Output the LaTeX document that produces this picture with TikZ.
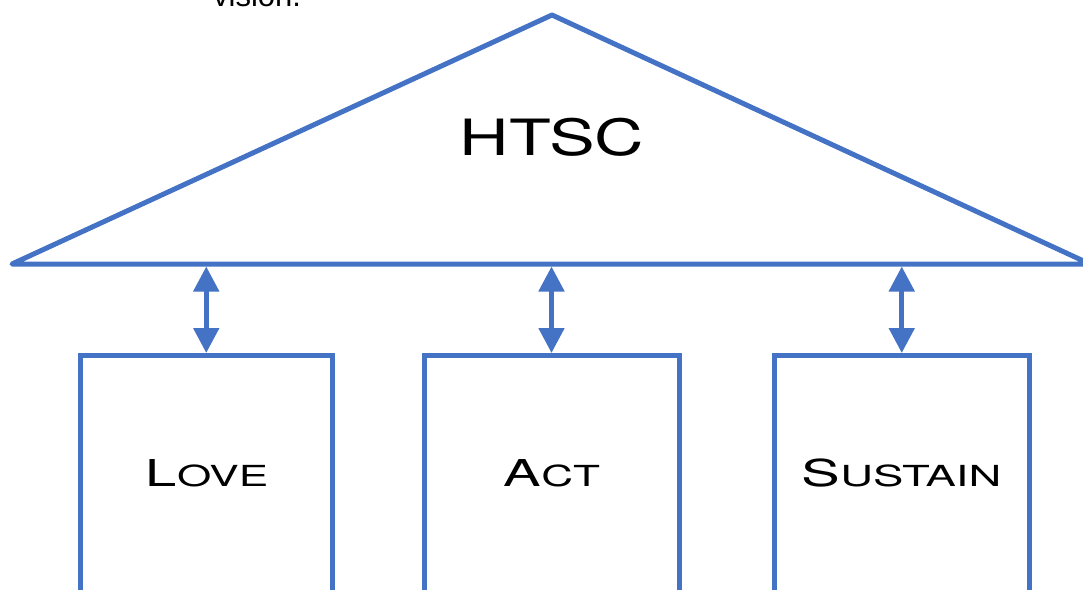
\documentclass[tikz,border=0pt]{standalone}
\usepackage{fontspec}
\setmainfont{TeX Gyre Heros}
\newfontfamily\arialf{Liberation Sans}
\usetikzlibrary{arrows.meta}
\definecolor{roofblue}{HTML}{4472C4}
\newcommand{\capsm}[2]{{\fontsize{37}{37}\selectfont #1\fontsize{29}{29}\selectfont #2}}
\begin{document}
\begin{tikzpicture}[x=1pt,y=-1pt,
  roof/.style={draw=roofblue, line width=5pt, line join=round},
  pillar/.style={draw=roofblue, line width=5pt, minimum height=300pt, anchor=north, inner sep=0pt},
  link/.style={draw=roofblue, line width=5pt, {Triangle[width=25pt,length=25pt]}-{Triangle[width=25pt,length=25pt]}},
  pillartext/.style={anchor=base, inner sep=0pt},
  titletext/.style={anchor=base, inner sep=0pt, font=\fontsize{50}{50}\selectfont}]
\useasboundingbox (0,0) rectangle (1083,589);
\clip (0,0) rectangle (1083,589);
% roof
\coordinate (apex) at (552,15);
\coordinate (baseL) at (12,264);
\coordinate (baseR) at (1090,264);
\draw[roof] (baseL) -- (apex) -- (baseR) -- cycle;
\node[titletext] (htsc) at (552,155) {\scalebox{1.37}[1]{HTSC}};
% pillars
\node[pillar, minimum width=252.5pt] (love) at (206.25,353) {};
\node[pillar, minimum width=255pt] (act) at (551.5,353) {};
\node[pillar, minimum width=255.5pt] (sustain) at (901.75,353) {};
\node[pillartext] (loveT) at (207,486.5) {\scalebox{1.52}[1]{\capsm{L}{OVE}}};
\node[pillartext] (actT) at (552,486.5) {\scalebox{1.52}[1]{\capsm{A}{CT}}};
\node[pillartext] (sustainT) at (901.5,486.5) {\scalebox{1.57}[1]{\capsm{S}{USTAIN}}};
% links
\coordinate (topL) at (love.north |- 0,266.5);
\coordinate (topA) at (act.north |- 0,266.5);
\coordinate (topS) at (sustain.north |- 0,266.5);
\draw[link] (topL) -- (love.north);
\draw[link] (topA) -- (act.north);
\draw[link] (topS) -- (sustain.north);
% cut text at top (cut off in the reference as well)
\node[anchor=base west, inner sep=0pt, font=\arialf\fontsize{31}{31}\selectfont] (vis) at (213,6) {vision.};
\end{tikzpicture}
\end{document}
